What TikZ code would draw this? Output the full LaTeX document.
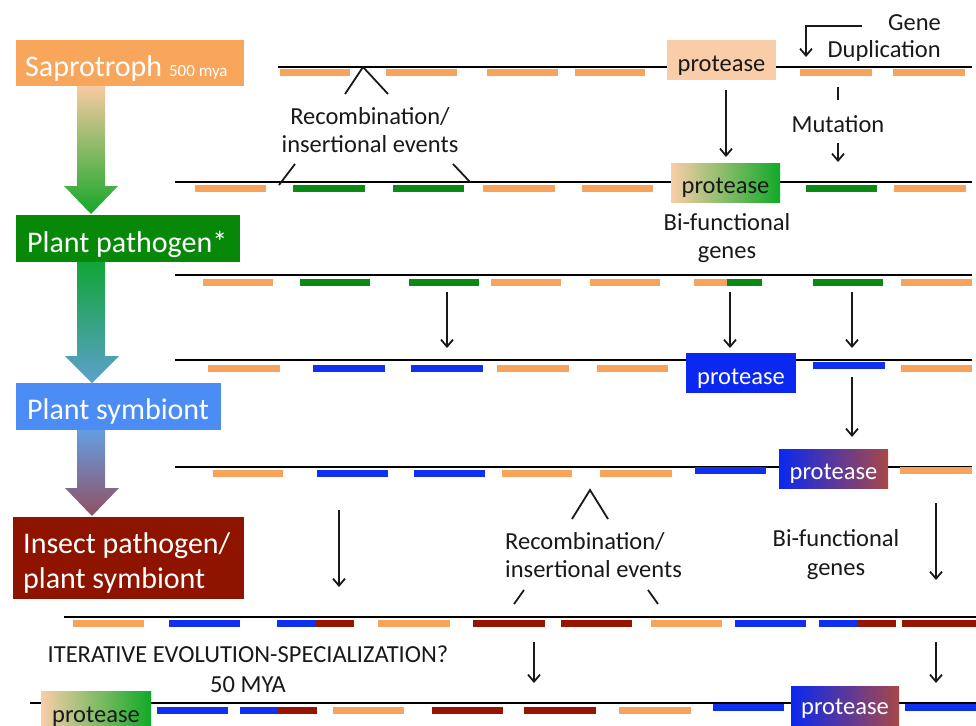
\documentclass[tikz,border=0pt]{standalone}
\usepackage{fontspec}
\setmainfont{Carlito}
\usetikzlibrary{arrows.meta}
\definecolor{gor}{RGB}{247,163,92}
\definecolor{ggr}{RGB}{10,138,20}
\definecolor{gbl}{RGB}{16,48,240}
\definecolor{grd}{RGB}{150,20,0}
\definecolor{boxor}{RGB}{248,166,92}
\definecolor{boxgr}{RGB}{8,136,8}
\definecolor{boxbl}{RGB}{76,140,245}
\definecolor{boxrd}{RGB}{142,20,0}
\definecolor{peach}{RGB}{249,205,168}
\definecolor{pblue}{RGB}{10,40,240}
\definecolor{pred}{RGB}{168,72,72}
\definecolor{pgreen}{RGB}{16,170,40}
\definecolor{txt}{RGB}{25,25,25}
\tikzset{
  stagebox/.style={fill=#1, inner sep=0pt, draw=none},
  stagetxt/.style={text=white, inner sep=0pt, font=\fontsize{30}{35}\selectfont, align=left},
  chrom/.style={line width=2pt, black},
  arr/.style={line width=1.8pt, txt, -{Straight Barb[length=7pt,width=12pt,line width=1.8pt]}},
  tick/.style={line width=1.8pt, txt},
  lbl/.style={inner sep=0pt, text=txt, font=\fontsize{24.5}{28}\selectfont},
  pbox/.style={inner sep=0pt, text depth=0pt, font=\fontsize{24.5}{28}\selectfont},
}
\begin{document}
\begin{tikzpicture}[x=1pt,y=-1pt]
\useasboundingbox (0,0) rectangle (976,725);
\clip (0,0) rectangle (976,725);
\fill[white] (0,0) rectangle (976,725);

% ---------- stage boxes ----------
\node[stagebox=boxor, minimum width=228, minimum height=46] (sap) at (130,63) {};
\node[stagetxt, anchor=base west] (saptxt) at (25,76) {Saprotroph {\fontsize{17}{20}\selectfont 500 mya}};
\node[stagebox=boxgr, minimum width=224, minimum height=47] (pp) at (128,238.5) {};
\node[stagetxt, anchor=base west] (pptxt) at (27,252) {Plant pathogen*};
\node[stagebox=boxbl, minimum width=205, minimum height=47] (ps) at (118.5,406.5) {};
\node[stagetxt, anchor=base west] (pstxt) at (27,419) {Plant symbiont};
\node[stagebox=boxrd, minimum width=231, minimum height=82] (ip) at (128.5,558) {};
\node[stagetxt, anchor=base west] (iptxt) at (23,588) {Insect pathogen/\\[0pt]plant symbiont};

% ---------- big gradient arrows ----------
\shade[top color={rgb,255:red,248;green,202;blue,162}, middle color={rgb,255:red,175;green,185;blue,110}, bottom color={rgb,255:red,22;green,168;blue,40}]
  (77,86) -- (105,86) -- (105,186) -- (118,186) -- (91,214) -- (64,186) -- (77,186) -- cycle;
\shade[top color={rgb,255:red,18;green,165;blue,55}, middle color={rgb,255:red,55;green,158;blue,140}, bottom color={rgb,255:red,92;green,160;blue,205}]
  (77,262) -- (105,262) -- (105,356) -- (119,356) -- (92,383) -- (65,356) -- (77,356) -- cycle;
\shade[top color={rgb,255:red,100;green,158;blue,225}, middle color={rgb,255:red,115;green,130;blue,175}, bottom color={rgb,255:red,145;green,80;blue,100}]
  (77,430) -- (105,430) -- (105,488) -- (119,488) -- (92,516) -- (65,488) -- (77,488) -- cycle;

% ---------- row 1 ----------
\draw[chrom] (278,66.5) -- (972,66.5);
\foreach \a/\b/\c in {280/350/gor,386/457/gor,487/558/gor,575/645/gor,800/872/gor,893/965/gor}
  \fill[\c] (\a,69) rectangle (\b,75.5);
\node[pbox, text height=23pt, fill=peach, text=txt, minimum width=109, minimum height=40] (p1) at (721.5,60) {protease};

% ---------- row 2 ----------
\draw[chrom] (175,182) -- (972,182);
\foreach \a/\b/\c in {195/266/gor,293/365/ggr,393/464/ggr,483/555/gor,582/653/gor,806/877/ggr,894/966/gor}
  \fill[\c] (\a,185) rectangle (\b,191.5);
\node[pbox, text height=21pt, left color=peach, right color=pgreen, text=txt, minimum width=109, minimum height=39] (p2) at (725.5,182.5) {protease};

% ---------- row 3 ----------
\draw[chrom] (175,275) -- (972,275);
\foreach \a/\b/\c in {203/273/gor,300/370/ggr,409/479/ggr,491/561/gor,590/660/gor,694/728/gor,727/762/ggr,813/883/ggr,901/972/gor}
  \fill[\c] (\a,279) rectangle (\b,285.5);

% ---------- row 4 ----------
\draw[chrom] (175,360) -- (972,360);
\foreach \a/\b/\c in {208/280/gor,313/385/gbl,411/483/gbl,497/569/gor,597/668/gor,901/972/gor}
  \fill[\c] (\a,365) rectangle (\b,371.5);
\fill[gbl] (813,362) rectangle (885,368.5);
\node[pbox, text height=23pt, fill=pblue, text=white, minimum width=110, minimum height=40] (p4) at (741,373) {protease};

% ---------- row 5 ----------
\draw[chrom] (175,467) -- (972,467);
\foreach \a/\b/\c in {213/283/gor,317/388/gbl,414/485/gbl,502/572/gor,600/672/gor}
  \fill[\c] (\a,470) rectangle (\b,476.5);
\foreach \a/\b/\c in {695/766/gbl,900/972/gor}
  \fill[\c] (\a,467) rectangle (\b,473.5);
\node[pbox, text height=21pt, left color=pblue, right color=pred, text=white, minimum width=109, minimum height=39] (p5) at (833.5,468.5) {protease};

% ---------- row 6 ----------
\draw[chrom] (64,617) -- (976,617);
\foreach \a/\b/\c in {73/144/gor,169/240/gbl,277/316/gbl,315/354/grd,378/450/gor,473/545/grd,561/632/grd,651/722/gor,735/806/gbl,819/858/gbl,857/896/grd,902/976/grd}
  \fill[\c] (\a,620) rectangle (\b,626.5);

% ---------- row 7 ----------
\draw[chrom] (30,703) -- (976,703);
\foreach \a/\b/\c in {157/228/gbl,240/279/gbl,278/317/grd,333/404/gor,432/503/grd,524/596/grd,619/691/gor}
  \fill[\c] (\a,707) rectangle (\b,713.5);
\foreach \a/\b/\c in {713/784/gbl,905/976/gbl}
  \fill[\c] (\a,704) rectangle (\b,710.5);
\node[pbox, text height=18pt, left color=peach, right color=pgreen, text=txt, minimum width=110, minimum height=44] (p7a) at (96,713) {protease};
\node[pbox, text height=12pt, left color=pblue, right color=pred, text=white, minimum width=108, minimum height=44] (p7b) at (845,708) {protease};

% ---------- labels (base = baseline of last line) ----------
\node[lbl, anchor=base, align=center] (rec1) at (370,152) {Recombination/\\insertional events};
\node[lbl, anchor=base east, align=right] (gd) at (941,58) {Gene\\Duplication};
\node[lbl, anchor=base] (mut) at (838,132) {Mutation};
\node[lbl, anchor=base, align=center] (bf1) at (727,258) {Bi-functional\\genes};
\node[lbl, anchor=base west, align=left] (rec2) at (505,577) {Recombination/\\insertional events};
\node[lbl, anchor=base, align=center, font=\fontsize{24.5}{29}\selectfont] (bf2) at (836,575) {Bi-functional\\genes};
\node[lbl, anchor=base, align=center, font=\fontsize{24.5}{30}\selectfont] (iter) at (248,692) {ITERATIVE EVOLUTION-SPECIALIZATION?\\50 MYA};

% ---------- wedges and ticks ----------
\coordinate (w1a) at (345,94); \coordinate (w1b) at (363,67); \coordinate (w1c) at (388,94);
\draw[tick] (w1a) -- (w1b) -- (w1c);
\coordinate (s1a) at (279,185); \coordinate (s1b) at (295,164);
\coordinate (s2a) at (453,164); \coordinate (s2b) at (470,182);
\draw[tick] (s1a) -- (s1b);
\draw[tick] (s2a) -- (s2b);
\coordinate (w2a) at (572,519); \coordinate (w2b) at (590,490); \coordinate (w2c) at (608,519);
\draw[tick] (w2a) -- (w2b) -- (w2c);
\coordinate (s3a) at (514,604); \coordinate (s3b) at (524,590);
\coordinate (s4a) at (648,590); \coordinate (s4b) at (658,604);
\draw[tick] (s3a) -- (s3b);
\draw[tick] (s4a) -- (s4b);

% ---------- thin arrows ----------
\coordinate (gdA) at (862,26); \coordinate (gdB) at (806,57);
\draw[arr] (gdA) -| (gdB);
\coordinate (m0) at (838,87); \coordinate (m1) at (838,100);
\draw[tick] (m0) -- (m1);
\coordinate (m2) at (838,143); \coordinate (m3) at (838,162);
\draw[arr] (m2) -- (m3);
\coordinate (a1s) at (726,90); \coordinate (a1e) at (726,157);
\draw[arr] (a1s) -- (a1e);
\foreach \x [count=\i] in {447,730,852}{
  \coordinate (b\i s) at (\x,292); \coordinate (b\i e) at (\x,348);
  \draw[arr] (b\i s) -- (b\i e);
}
\coordinate (c1s) at (852,377); \coordinate (c1e) at (852,437);
\draw[arr] (c1s) -- (c1e);
\coordinate (d1s) at (339,510); \coordinate (d1e) at (339,587);
\draw[arr] (d1s) -- (d1e);
\coordinate (d2s) at (936,503); \coordinate (d2e) at (936,580);
\draw[arr] (d2s) -- (d2e);
\coordinate (e1s) at (534,642); \coordinate (e1e) at (534,683);
\draw[arr] (e1s) -- (e1e);
\coordinate (e2s) at (936,642); \coordinate (e2e) at (936,683);
\draw[arr] (e2s) -- (e2e);
\end{tikzpicture}
\end{document}
